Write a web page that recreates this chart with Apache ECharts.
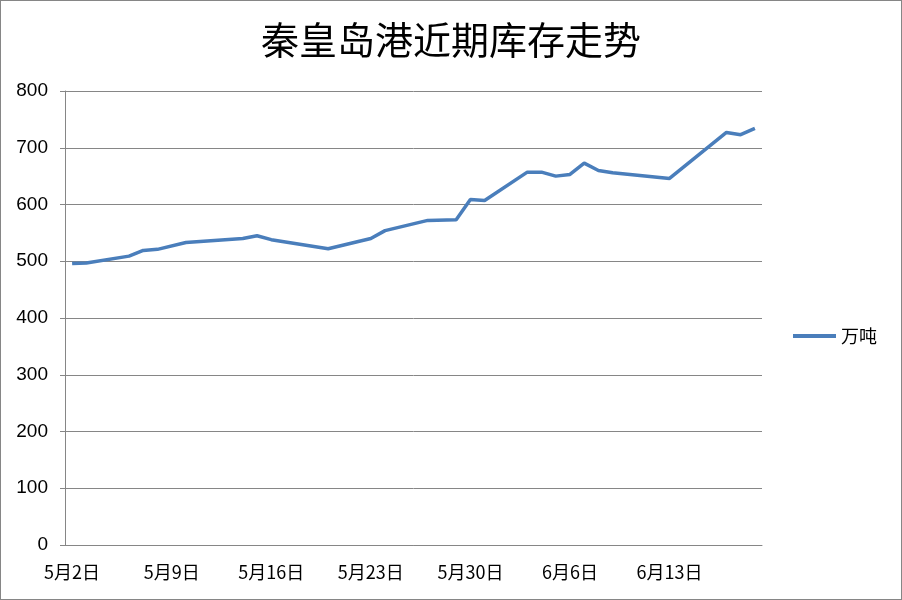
<!DOCTYPE html>
<html>
<head>
<meta charset="utf-8">
<script src="https://cdn.jsdelivr.net/npm/echarts@6/dist/echarts.min.js"></script>
<style>
html,body{margin:0;padding:0;background:#fff;}
#c{width:900px;height:598px;border:1px solid #868686;}
</style>
</head>
<body>
<div id="c"></div>
<script>
// Day-indexed data from 5/2 to 6/19; null where no reading is present
const startMonth = 5, startDay = 2, dayCount = 49;
const readings = [
  [0, 496], [1, 497], [4, 509], [5, 519], [6, 521], [8, 533], [9, 535],
  [12, 540], [13, 545], [14, 538], [15, 534], [18, 522], [21, 540], [22, 554],
  [25, 572], [27, 573], [28, 609], [29, 607], [32, 657], [33, 657], [34, 650],
  [35, 653], [36, 673], [37, 660], [38, 656], [42, 646], [46, 727], [47, 723], [48, 734]
];
const yTicks = [0, 100, 200, 300, 400, 500, 600, 700, 800];
const seriesName = '万吨';
const titleText = '秦皇岛港近期库存走势';

const categories = [];
for (let i = 0; i < dayCount; i++) {
  const d = new Date(2020, startMonth - 1, startDay + i);
  categories.push((d.getMonth() + 1) + '月' + d.getDate() + '日');
}
const values = new Array(dayCount).fill(null);
readings.forEach(([i, v]) => { values[i] = v; });

const chart = echarts.init(document.getElementById('c'));
const font = '"Noto Sans CJK SC", "Liberation Sans", sans-serif';
chart.setOption({
  animation: false,
  title: {
    text: titleText, left: 'center', top: 15,
    textStyle: { fontFamily: font, fontSize: 38, fontWeight: 'normal', color: '#000' }
  },
  legend: {
    data: [seriesName], left: 787, top: 321, icon: 'rect', itemWidth: 43, itemHeight: 4,
    itemGap: 3,
    textStyle: { fontFamily: font, fontSize: 18, color: '#000' }
  },
  grid: { left: 64, right: 139, top: 90, bottom: 54, containLabel: false },
  xAxis: {
    type: 'category', data: categories, boundaryGap: true,
    axisLine: { lineStyle: { color: '#868686', width: 1 } },
    axisTick: { interval: 6, length: 5, lineStyle: { color: '#868686' } },
    axisLabel: { interval: 6, margin: 18, fontFamily: font, fontSize: 18, color: '#000' },
    splitLine: { show: false }
  },
  yAxis: {
    type: 'value', min: 0, max: 800, interval: 100,
    axisLine: { show: true, lineStyle: { color: '#868686' } },
    axisTick: { show: true, length: 5, lineStyle: { color: '#868686' } },
    axisLabel: { margin: 17, fontFamily: '"Liberation Sans", sans-serif', fontSize: 19, color: '#000',
      formatter: v => yTicks.includes(v) ? String(v) : '' },
    splitLine: { lineStyle: { color: '#868686', width: 1 } }
  },
  series: [{
    name: seriesName, type: 'line', data: values, connectNulls: true,
    symbol: 'none', itemStyle: { color: '#4A7EBB' },
    lineStyle: { color: '#4A7EBB', width: 3.5 }
  }]
});
</script>
</body>
</html>
